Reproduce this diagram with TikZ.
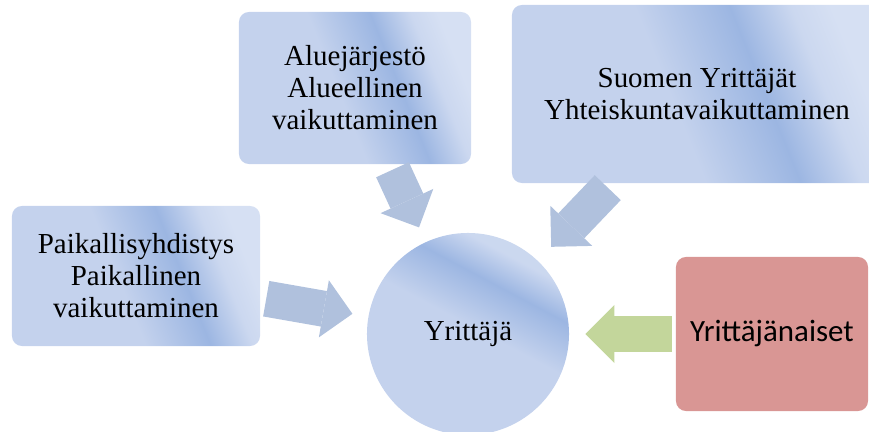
\documentclass[tikz,border=0pt]{standalone}
\usepackage{fontspec}
\setmainfont{Liberation Serif}
\newfontfamily\calibrifont{Carlito}
\usetikzlibrary{arrows.meta}

\definecolor{baseblue}{RGB}{196,210,237}
\definecolor{bandblue}{RGB}{156,182,226}
\definecolor{paleblue}{RGB}{214,224,243}
\definecolor{arrowblue}{RGB}{176,193,221}
\definecolor{arrowgreen}{RGB}{195,214,155}
\definecolor{rosered}{RGB}{217,150,148}

\pgfdeclarehorizontalshading{smartblue}{100bp}{%
  color(0bp)=(baseblue); color(25bp)=(baseblue); color(46bp)=(baseblue);
  color(60bp)=(bandblue); color(69bp)=(baseblue!60!paleblue);
  color(75bp)=(paleblue); color(100bp)=(paleblue)}
\pgfdeclarehorizontalshading{hubblue}{100bp}{%
  color(0bp)=(baseblue); color(25bp)=(baseblue); color(52bp)=(baseblue);
  color(64bp)=(bandblue); color(72bp)=(baseblue!60!paleblue);
  color(78bp)=(baseblue!60!paleblue); color(100bp)=(baseblue!60!paleblue)}

\begin{document}
\begin{tikzpicture}[
    x=0.025cm, y=-0.025cm,
    every node/.style={font=\fontsize{20.6pt}{22.8pt}\selectfont},
    level/.style={rectangle, rounded corners=0.25cm, draw=none,
                  align=center, inner sep=0pt},
    tinted/.style={shading=smartblue, shading angle=#1},
    hub/.style={circle, draw=none, minimum size=5.05cm, inner sep=0pt,
                shading=hubblue, shading angle=62},
    push/.style={draw=arrowblue, line width=0.9cm,
                 -{Triangle[length=0.725cm, width=1.45cm, line width=0pt]},
                 shorten <=0.15cm, shorten >=0.4cm}
]
\useasboundingbox (0,0) rectangle (869,432);
\clip (0,0) rectangle (869,432);

% levels of influence
\node[level, tinted=22, minimum width=6.2cm, minimum height=3.5cm] (paik) at (136,276)
    {Paikallisyhdistys\\Paikallinen\\vaikuttaminen};
\node[level, tinted=22, minimum width=5.8cm, minimum height=3.8cm] (alue) at (355,88)
    {Aluejärjestö\\Alueellinen\\vaikuttaminen};
\node[level, tinted=22, minimum width=9.25cm, minimum height=4.45cm] (suomi) at (697,94)
    {Suomen Yrittäjät\\Yhteiskuntavaikuttaminen};
\node[level, fill=rosered, minimum width=4.8cm, minimum height=3.85cm,
      font=\calibrifont\fontsize{22pt}{26pt}\selectfont] (naiset) at (772,334)
    {Yrittäjänaiset};

% the entrepreneur in the middle
\node[hub] (yrit) at (468,334) {Yrittäjä};

\draw[push] (paik) -- (yrit);
\draw[push] (alue) -- (yrit);
\draw[push, shorten >=0.48cm] (suomi) -- (yrit);
\draw[push, draw=arrowgreen, shorten <=0.1cm] (naiset) -- (yrit);
\end{tikzpicture}
\end{document}
